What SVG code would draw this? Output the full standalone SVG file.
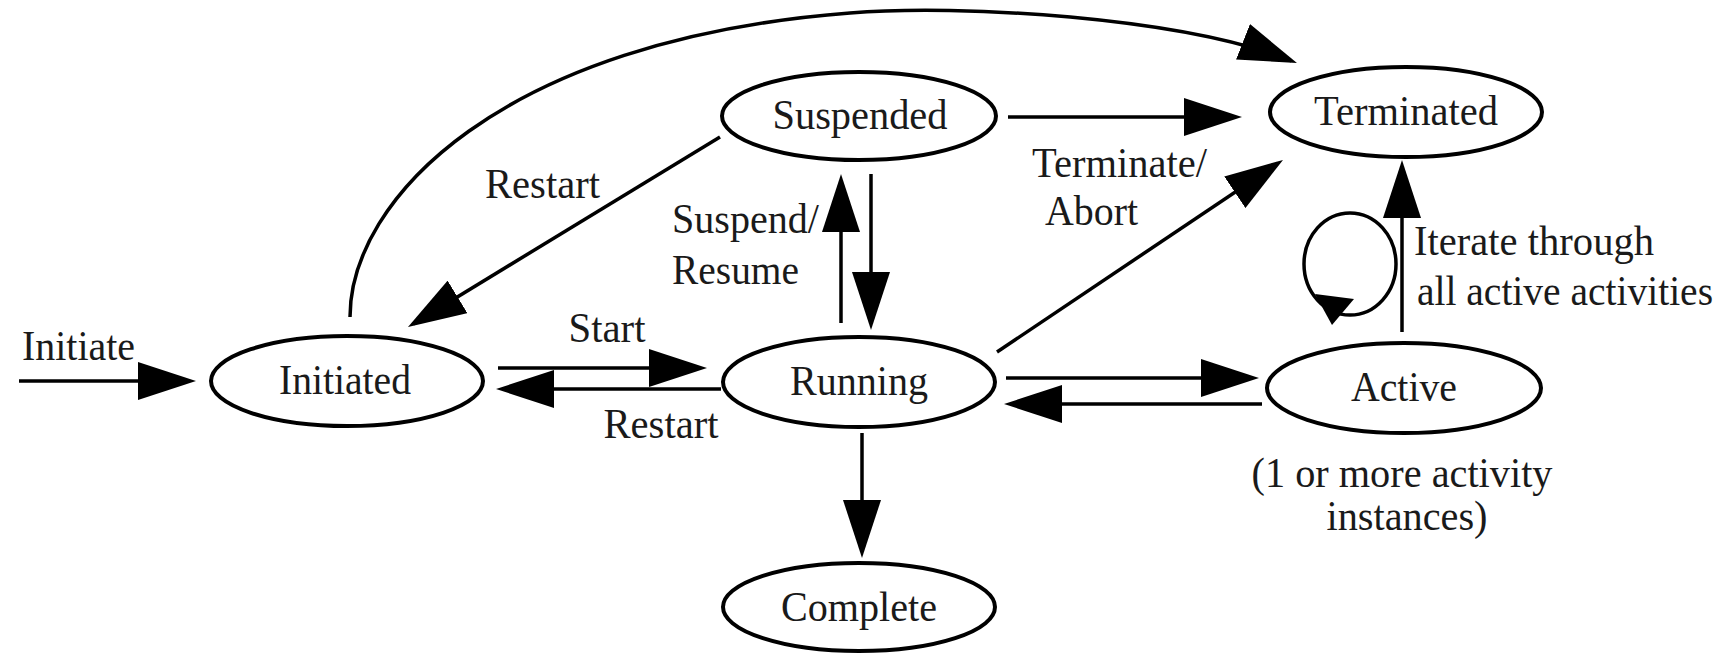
<svg xmlns="http://www.w3.org/2000/svg" width="1731" height="653" viewBox="0 0 1731 653">
<style>
.node ellipse{fill:#fff;stroke:#000;stroke-width:4}
text{font-family:"Liberation Serif","Times New Roman",serif;font-size:42px;fill:#1a1a1a}
.nl{text-anchor:middle}
.edge{fill:none;stroke:#000;stroke-width:3.5;marker-end:url(#ah)}
.plain{fill:none;stroke:#000;stroke-width:3.5}
.head{fill:#000}
</style>
<defs>
<marker id="ah" markerUnits="userSpaceOnUse" viewBox="0 0 58 38" markerWidth="58" markerHeight="38" refX="52" refY="19" orient="auto">
<path d="M0,0 L58,19 L0,38 Z" fill="#000"/>
</marker>
</defs>
<rect width="1731" height="653" fill="#fff"/>
<g id="connectors">
<path class="edge" d="M19,381 H190"/>
<path class="edge" d="M498,368 H701"/>
<path class="edge" d="M721,389 H502"/>
<path class="edge" d="M1008,117 H1236"/>
<path class="edge" d="M997,352 L1278,163.3"/>
<path class="edge" d="M720,137 L413.1,323.9"/>
<path class="edge" d="M841,323 V180"/>
<path class="edge" d="M871,174 V324"/>
<path class="edge" d="M1006,378 H1253"/>
<path class="edge" d="M1262,404 H1010"/>
<path class="edge" d="M862,433 V552"/>
<path class="edge" d="M1402,332 V166"/>
<path class="edge" d="M350,317 C350,200 500,40 850,13 C960,4 1180,17 1291.4,60.8"/>
<ellipse class="plain" cx="1350" cy="264" rx="46" ry="51"/>
<polygon class="head" points="1315,294 1354,299 1332,325"/>
</g>
<g id="labels">
<text x="22" y="360" textLength="113" lengthAdjust="spacingAndGlyphs">Initiate</text>
<text x="607" y="342" class="nl" textLength="77" lengthAdjust="spacingAndGlyphs">Start</text>
<text x="661" y="438" class="nl" textLength="115" lengthAdjust="spacingAndGlyphs">Restart</text>
<text x="485" y="198" textLength="115" lengthAdjust="spacingAndGlyphs">Restart</text>
<text x="672" y="233" textLength="147" lengthAdjust="spacingAndGlyphs">Suspend/</text>
<text x="672" y="284" textLength="127" lengthAdjust="spacingAndGlyphs">Resume</text>
<text x="1032" y="177" textLength="175" lengthAdjust="spacingAndGlyphs">Terminate/</text>
<text x="1045" y="225" textLength="93" lengthAdjust="spacingAndGlyphs">Abort</text>
<text x="1414" y="255" textLength="240" lengthAdjust="spacingAndGlyphs">Iterate through</text>
<text x="1417" y="305" textLength="296" lengthAdjust="spacingAndGlyphs">all active activities</text>
<text x="1402" y="487" class="nl" textLength="301" lengthAdjust="spacingAndGlyphs">(1 or more activity</text>
<text x="1407" y="530" class="nl" textLength="161" lengthAdjust="spacingAndGlyphs">instances)</text>
</g>
<g id="node-initiated" class="node"><ellipse cx="347" cy="381" rx="136" ry="45"/><text x="345" y="394" class="nl" textLength="132" lengthAdjust="spacingAndGlyphs">Initiated</text></g>
<g id="node-running" class="node"><ellipse cx="859" cy="382" rx="136" ry="45"/><text x="859" y="395" class="nl" textLength="138" lengthAdjust="spacingAndGlyphs">Running</text></g>
<g id="node-suspended" class="node"><ellipse cx="859" cy="116" rx="137" ry="44"/><text x="860" y="129" class="nl" textLength="175" lengthAdjust="spacingAndGlyphs">Suspended</text></g>
<g id="node-terminated" class="node"><ellipse cx="1406" cy="112" rx="136" ry="45"/><text x="1406" y="125" class="nl" textLength="184" lengthAdjust="spacingAndGlyphs">Terminated</text></g>
<g id="node-active" class="node"><ellipse cx="1404" cy="388" rx="137" ry="45"/><text x="1404" y="401" class="nl" textLength="106" lengthAdjust="spacingAndGlyphs">Active</text></g>
<g id="node-complete" class="node"><ellipse cx="859" cy="607" rx="136" ry="44"/><text x="859" y="621" class="nl" textLength="156" lengthAdjust="spacingAndGlyphs">Complete</text></g>
</svg>
